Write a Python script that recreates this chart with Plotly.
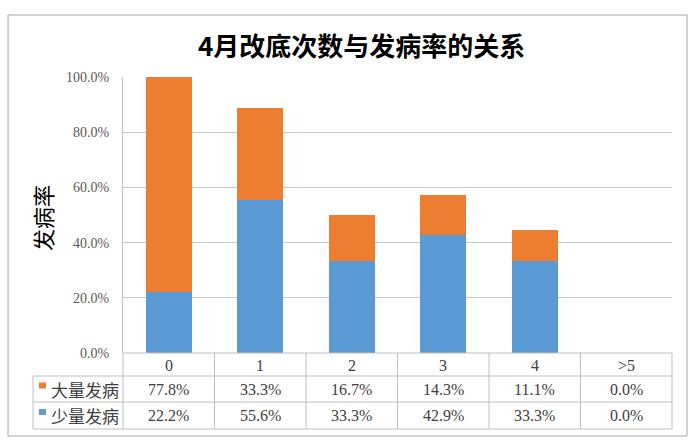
import plotly.graph_objects as go

categories = ["0", "1", "2", "3", "4", ">5"]
heavy = [77.8, 33.3, 16.7, 14.3, 11.1, 0.0]   # 大量发病
light = [22.2, 55.6, 33.3, 42.9, 33.3, 0.0]   # 少量发病
series_names = ["大量发病", "少量发病"]
title_text = "4月改底次数与发病率的关系"
y_title = "发病率"
y_ticks = [0, 20, 40, 60, 80, 100]

W, H = 696, 443
L, R, T, B = 123, 672, 77, 353  # plot area in pixels
pw, ph = R - L, B - T

def px(x):
    return (x - L) / pw

def py(y):
    return (B - y) / ph

ORANGE = "#ED7D31"
BLUE = "#5B9BD5"
LINE = "#BFBFBF"
NUMFONT = "Liberation Serif, DejaVu Serif, serif"
CJK = "Noto Sans CJK SC"

fig = go.Figure()
fig.add_trace(go.Bar(x=categories, y=light, name=series_names[1], marker_color=BLUE,
                     marker_line_width=0))
fig.add_trace(go.Bar(x=categories, y=heavy, name=series_names[0], marker_color=ORANGE,
                     marker_line_width=0))

shapes = []
annotations = []

# outer border
shapes.append(dict(type="rect", xref="paper", yref="paper",
                   x0=px(8), x1=px(687), y0=py(15), y1=py(436),
                   line=dict(color="#A6A6A6", width=1), layer="below"))

# table lines
row_lines = [376, 402, 429]
for yy in row_lines:
    shapes.append(dict(type="line", xref="paper", yref="paper",
                       x0=px(33), x1=px(R), y0=py(yy), y1=py(yy),
                       line=dict(color=LINE, width=1)))
shapes.append(dict(type="line", xref="paper", yref="paper",
                   x0=px(L), x1=px(R), y0=py(B), y1=py(B),
                   line=dict(color=LINE, width=1)))
ncat = len(categories)
for i in range(ncat + 1):
    xx = L + pw * i / ncat
    shapes.append(dict(type="line", xref="paper", yref="paper",
                       x0=px(xx), x1=px(xx), y0=py(B), y1=py(429),
                       line=dict(color=LINE, width=1)))
shapes.append(dict(type="line", xref="paper", yref="paper",
                   x0=px(33), x1=px(33), y0=py(376), y1=py(429),
                   line=dict(color=LINE, width=1)))

# category header labels
for c in categories:
    annotations.append(dict(x=c, xref="x", y=py(365), yref="paper", text=c,
                            showarrow=False, font=dict(family=NUMFONT, size=16, color="#404040"),
                            xanchor="center", yanchor="middle"))

# table rows
rows = [(series_names[0], heavy, ORANGE, 389), (series_names[1], light, BLUE, 415.5)]
for name, vals, col, yc in rows:
    shapes.append(dict(type="rect", xref="paper", yref="paper",
                       x0=px(39), x1=px(46), y0=py(yc - 6.5), y1=py(yc - 0.5),
                       line=dict(width=0), fillcolor=col))
    annotations.append(dict(x=px(49), xref="paper", y=py(yc), yref="paper", text=name,
                            showarrow=False, font=dict(family=CJK, size=17, color="#404040"),
                            xanchor="left", yanchor="middle"))
    for c, v in zip(categories, vals):
        annotations.append(dict(x=c, xref="x", y=py(yc), yref="paper", text=f"{v:.1f}%",
                                showarrow=False, font=dict(family=NUMFONT, size=16, color="#404040"),
                                xanchor="center", yanchor="middle"))

# y axis title
annotations.append(dict(x=px(42), xref="paper", y=py(218), yref="paper", text=y_title,
                        textangle=-90, showarrow=False,
                        font=dict(family=CJK, size=22, color="#000000"),
                        xanchor="center", yanchor="middle"))
# title
annotations.append(dict(x=px(361), xref="paper", y=py(45), yref="paper",
                        text=f"<b>{title_text}</b>", showarrow=False,
                        font=dict(family=CJK, size=26, color="#000000"),
                        xanchor="center", yanchor="middle"))

fig.update_layout(
    width=W, height=H,
    margin=dict(l=L, r=W - R, t=T, b=H - B),
    barmode="stack", bargap=0.5,
    showlegend=False,
    plot_bgcolor="white", paper_bgcolor="white",
    shapes=shapes, annotations=annotations,
    xaxis=dict(showticklabels=False, showgrid=False, zeroline=False, showline=False,
               ticks="", range=[-0.5, ncat - 0.5]),
    yaxis=dict(range=[0, 100], tickvals=y_ticks,
               ticktext=[f"{v:.1f}%" for v in y_ticks],
               tickfont=dict(family=NUMFONT, size=14, color="#595959"),
               showgrid=True, gridcolor="#C8C8C8", gridwidth=1,
               zeroline=False, showline=True, linecolor=LINE, linewidth=1,
               ticks="", ticklabelstandoff=10),
)

fig.write_html("out.html")
